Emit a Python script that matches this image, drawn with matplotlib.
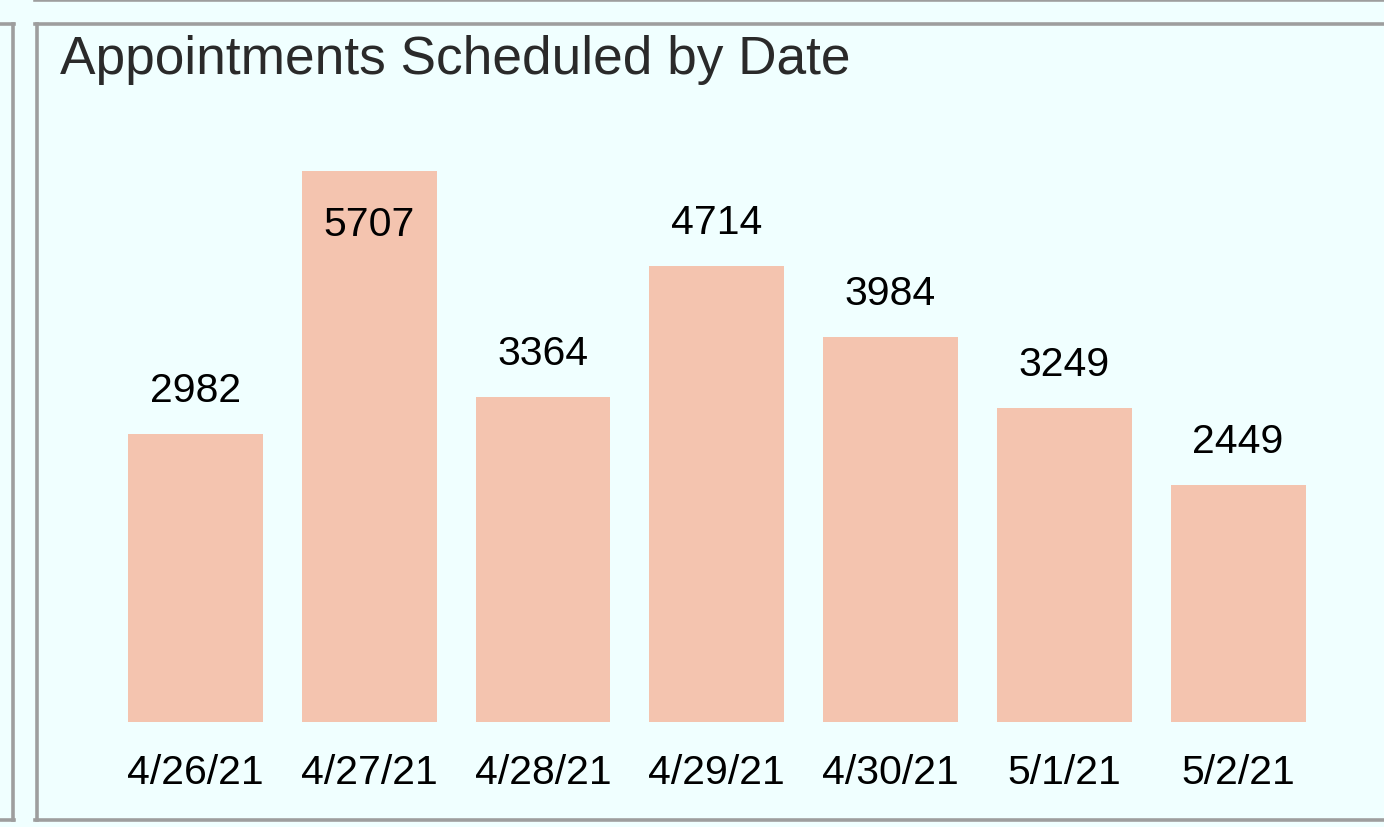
import matplotlib
matplotlib.use("Agg")
import matplotlib.pyplot as plt
from matplotlib.lines import Line2D

dates = ["4/26/21", "4/27/21", "4/28/21", "4/29/21", "4/30/21", "5/1/21", "5/2/21"]
appointments = [2982, 5707, 3364, 4714, 3984, 3249, 2449]
title = "Appointments Scheduled by Date"

BG = "#f0ffff"
BAR = "#f4c4af"
BORDER = "#9e9e9e"

plt.rcParams["font.family"] = ["Liberation Sans", "DejaVu Sans"]

W, H = 1384, 828
fig = plt.figure(figsize=(W / 100, H / 100), dpi=100)
fig.patch.set_facecolor(BG)

# panel borders
lw = 3.6 * 72 / 100
# main panel
fig.add_artist(Line2D([36.5 / W, 36.5 / W], [1 - 24.5 / H, 1 - 820.5 / H], color=BORDER, lw=lw))
fig.add_artist(Line2D([34.7 / W, 1.01], [1 - 24.5 / H, 1 - 24.5 / H], color=BORDER, lw=lw))
fig.add_artist(Line2D([34.7 / W, 1.01], [1 - 820.5 / H, 1 - 820.5 / H], color=BORDER, lw=lw))
# left panel
fig.add_artist(Line2D([12.5 / W, 12.5 / W], [1 - 24.5 / H, 1 - 820.5 / H], color=BORDER, lw=lw))
fig.add_artist(Line2D([-0.01, 14.3 / W], [1 - 24.5 / H, 1 - 24.5 / H], color=BORDER, lw=lw))
fig.add_artist(Line2D([-0.01, 14.3 / W], [1 - 820.5 / H, 1 - 820.5 / H], color=BORDER, lw=lw))
# top panel
fig.add_artist(Line2D([34.7 / W, 1.01], [1 - 1.0 / H, 1 - 1.0 / H], color=BORDER, lw=lw))

# axes
left, right = 108.5, 1325
bottom, top = 722.5, 120
ax = fig.add_axes([left / W, 1 - bottom / H, (right - left) / W, (bottom - top) / H])
ax.set_facecolor("none")
scale = 551 / 5707  # px per unit
ymax = (bottom - top) / scale
ax.set_xlim(-0.5, len(dates) - 0.5)
ax.set_ylim(0, ymax)

xs = list(range(len(dates)))
ax.bar(xs, appointments, width=0.776, color=BAR, linewidth=0)

for s in ax.spines.values():
    s.set_visible(False)
ax.set_yticks([])
ax.set_xticks(xs)
ax.set_xticklabels(dates, fontsize=29.5, color="black")
ax.tick_params(axis="x", length=0, pad=22.5)

vmax = max(appointments)
for x, v in zip(xs, appointments):
    if v == vmax:
        ax.annotate(str(v), (x, v), xytext=(0, -64 * 0.72), textcoords="offset points",
                    ha="center", va="baseline", fontsize=29.5, color="black")
    else:
        ax.annotate(str(v), (x, v), xytext=(0, 33 * 0.72), textcoords="offset points",
                    ha="center", va="baseline", fontsize=29.5, color="black")

fig.text(60 / W, 1 - 74 / H, title, fontsize=38.3, color="#2a2a2a", ha="left", va="baseline")

fig.savefig("out.png", dpi=100, facecolor=BG)
